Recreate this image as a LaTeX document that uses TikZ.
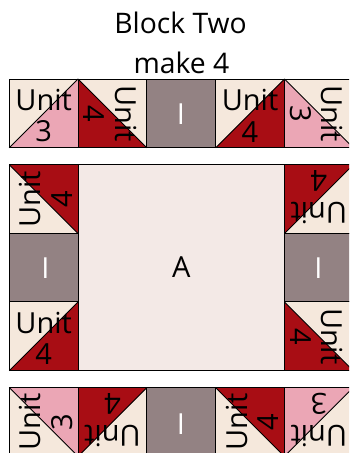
\documentclass[tikz,border=0pt]{standalone}
\usepackage{fontspec}
\setmainfont{Open Sans}
\definecolor{cream}{HTML}{F5E8DC}
\definecolor{pinkp}{HTML}{EBA6B5}
\definecolor{redp}{HTML}{A80D14}
\definecolor{greyp}{HTML}{938283}
\definecolor{palep}{HTML}{F3E9E6}
\tikzset{
  patch/.style={draw=black,line width=0.9pt,line join=miter},
  lbl/.style={inner sep=0pt,font=\fontsize{29}{29}\selectfont,text=black,anchor=center},
  title/.style={inner sep=0pt,font=\fontsize{28.3}{28.3}\selectfont,text=black,anchor=center},
  bar/.style={inner sep=0pt,font=\fontsize{29}{29}\selectfont,text=white,anchor=center}
}
% name, centre x, centre y (pixels from top), rotation, colour, number
\newcommand{\unitblock}[6]{%
  \begin{scope}[shift={(#2,-#3)},rotate=#4]
    \fill[cream] (-34.4,-34.4) rectangle (34.4,34.4);
    \fill[#5] (-34.4,-34.4) -- (34.4,-34.4) -- (34.4,34.4) -- cycle;
    \draw[patch] (-34.4,-34.4) rectangle (34.4,34.4);
    \draw[patch] (-34.4,-34.4) -- (34.4,34.4);
    \node[lbl,rotate=#4] (#1u) at (0,13.5) {Unit};
    \node[lbl,rotate=#4] (#1n) at (0,-18.2) {#6};
  \end{scope}}
\newcommand{\plainblock}[5]{%
  \fill[greyp] (#2-34.4,-#3-34.4) rectangle (#2+34.4,-#3+34.4);
  \draw[patch] (#2-34.4,-#3-34.4) rectangle (#2+34.4,-#3+34.4);
  \node[bar] (#1) at (#4,-#5) {I};}
\begin{document}
\begin{tikzpicture}[x=1pt,y=1pt]
\useasboundingbox (0,0) rectangle (349,-453);
\clip (0,0) rectangle (349,-453);
\node[title] (t1) at (180.5,-23) {Block Two};
\node[title] (t2) at (181.5,-63) {make 4};
% top row
\unitblock{a}{43.7}{113.4}{0}{pinkp}{3}
\unitblock{b}{112.5}{113.4}{-90}{redp}{4}
\plainblock{c}{181.2}{113.4}{181}{114}
\unitblock{d}{250}{113.4}{0}{redp}{4}
\unitblock{e}{318.8}{113.4}{-90}{pinkp}{3}
% middle
\node[patch,fill=palep,minimum width=206.3pt,minimum height=206.3pt,inner sep=0pt,
  font=\fontsize{29}{29}\selectfont] (big) at (181.2,-267.5) {A};
\unitblock{f}{43.7}{199.1}{90}{redp}{4}
\unitblock{g}{318.8}{199.1}{180}{redp}{4}
\plainblock{h}{43.7}{267.5}{45.5}{268}
\plainblock{i}{318.8}{267.5}{318.5}{268}
\unitblock{j}{43.7}{336.3}{0}{redp}{4}
\unitblock{k}{318.8}{336.3}{-90}{redp}{4}
% bottom row
\unitblock{l}{43.7}{422}{90}{pinkp}{3}
\unitblock{m}{112.5}{422}{180}{redp}{4}
\plainblock{n}{181.2}{422}{181}{424}
\unitblock{o}{250}{422}{90}{redp}{4}
\unitblock{p}{318.8}{422}{180}{pinkp}{3}
\end{tikzpicture}
\end{document}
